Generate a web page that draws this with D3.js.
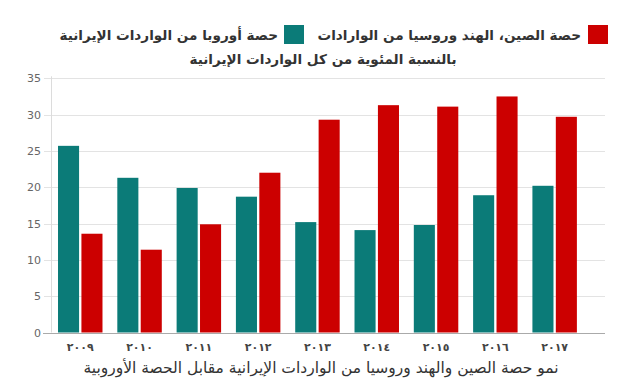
<!DOCTYPE html>
<html><head><meta charset="utf-8">
<script src="https://cdn.jsdelivr.net/npm/d3@7"></script>
<style>
html,body{margin:0;padding:0;background:#fff;}
svg text{font-family:"DejaVu Sans",sans-serif;}
</style></head>
<body><svg id="c" width="633" height="392"></svg>
<script>
const years = ["2009","2010","2011","2012","2013","2014","2015","2016","2017"];
const yearLabels = ["٢٠٠٩","٢٠١٠","٢٠١١","٢٠١٢","٢٠١٣","٢٠١٤","٢٠١٥","٢٠١٦","٢٠١٧"];
const europeShare = [25.7, 21.3, 19.9, 18.7, 15.2, 14.1, 14.8, 18.9, 20.2];
const asiaShare = [13.6, 11.4, 14.9, 22.0, 29.3, 31.3, 31.1, 32.5, 29.7];
const seriesNames = ["حصة أوروبا من الواردات الإيرانية", "حصة الصين، الهند وروسيا من الوارادات"];
const seriesColors = ["#0b7b78", "#cc0000"];
const yTicks = [0,5,10,15,20,25,30,35];
const subtitle = "بالنسبة المئوية من كل الواردات الإيرانية";
const xTitle = "نمو حصة الصين والهند وروسيا من الواردات الإيرانية مقابل الحصة الأوروبية";

const svg = d3.select("#c");
const plotL = 51, plotR = 605, plotT = 78.3, plotB = 332.5;

const y = d3.scaleLinear().domain([0,35]).range([plotB, plotT]);
const x = d3.scaleBand().domain(years).range([50.6, 584.3]).paddingInner(0.25).paddingOuter(0.125);
const xs = d3.scaleBand().domain([0,1]).range([0, x.bandwidth()]).paddingInner(0.1);

// gridlines
const grid = svg.append("g");
grid.selectAll("line").data(yTicks.filter(d=>d>0)).join("line")
  .attr("x1", plotL-7).attr("x2", plotR)
  .attr("y1", d=>Math.round(y(d))+0.5).attr("y2", d=>Math.round(y(d))+0.5)
  .attr("stroke", "#e3e3e3").attr("stroke-width", 1);
// y axis line
svg.append("line").attr("x1", plotL+0.5).attr("x2", plotL+0.5)
  .attr("y1", plotT-2).attr("y2", plotB).attr("stroke", "#dcdcdc");

// y labels
const yAxis = d3.axisLeft(y).tickValues(yTicks).tickSize(0).tickPadding(0);
const gy = svg.append("g").attr("transform", `translate(${plotL-10},0)`).call(yAxis);
gy.select(".domain").remove();
gy.selectAll("text").attr("font-size", 11).attr("fill", "#666")
  .style("font-family", "'DejaVu Sans',sans-serif");

// bars
const groups = svg.append("g").selectAll("g").data(years).join("g")
  .attr("transform", d=>`translate(${x(d)},0)`);
groups.selectAll("rect").data((d,i)=>[europeShare[i], asiaShare[i]]).join("rect")
  .attr("x", (d,j)=>xs(j)).attr("width", xs.bandwidth())
  .attr("y", d=>y(d)).attr("height", d=>plotB - y(d))
  .attr("fill", (d,j)=>seriesColors[j]);

// x axis baseline
svg.append("line").attr("x1", plotL-8).attr("x2", plotR)
  .attr("y1", Math.round(plotB)+0.5).attr("y2", Math.round(plotB)+0.5)
  .attr("stroke", "#aaaaaa");

// x labels
const xAxis = d3.axisBottom(x).tickSize(0).tickPadding(0).tickFormat((d,i)=>yearLabels[i]);
const gx = svg.append("g").attr("transform", `translate(0,${plotB+11})`).call(xAxis);
gx.select(".domain").remove();
gx.selectAll("text").attr("font-size", 11).attr("font-weight", "bold").attr("fill", "#444")
  .style("font-family", "'DejaVu Sans',sans-serif");

// legend (RTL order)
const legend = svg.append("g");
const legendItems = [
  {sq: 588, tx: 581, name: seriesNames[1], color: seriesColors[1]},
  {sq: 284, tx: 278, name: seriesNames[0], color: seriesColors[0]}
];
legendItems.forEach(it=>{
  legend.append("rect").attr("x", it.sq).attr("y", 25).attr("width", 20).attr("height", 19)
    .attr("fill", it.color);
  legend.append("text").attr("x", it.tx).attr("y", 39.5).attr("text-anchor", "end")
    .attr("font-size", 13.6).attr("font-weight", "bold").attr("fill", "#333").text(it.name);
});

svg.append("text").attr("x", 323).attr("y", 64).attr("text-anchor", "middle")
  .attr("font-size", 13.6).attr("font-weight", "bold").attr("fill", "#333").text(subtitle);

svg.append("text").attr("x", 321).attr("y", 373).attr("text-anchor", "middle")
  .attr("font-size", 15.5).attr("fill", "#333").text(xTitle);
</script></body></html>
